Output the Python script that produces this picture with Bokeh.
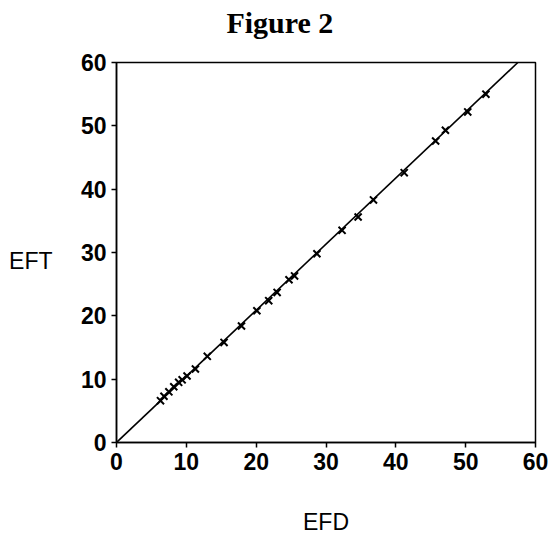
from bokeh.plotting import figure
from bokeh.models import (Range1d, Slope, FixedTicker, ColumnDataSource,
                          LinearAxis)
from bokeh.embed import file_html
from bokeh.resources import INLINE

# data
efd = [6.3, 6.8, 7.5, 8.2, 8.9, 9.4, 10.1, 11.3, 13.0, 15.4, 17.9, 20.1, 21.8,
       23.0, 24.7, 25.5, 28.7, 32.3, 34.6, 36.8, 41.2, 45.7, 47.1, 50.3, 52.9]
eft = [6.6, 7.3, 8.0, 8.8, 9.5, 9.9, 10.5, 11.6, 13.6, 15.8, 18.4, 20.8, 22.4,
       23.7, 25.7, 26.3, 29.8, 33.5, 35.6, 38.3, 42.6, 47.6, 49.3, 52.2, 55.0]
fit_intercept = 0.0
fit_slope = 1.044
x_ticks = [0, 10, 20, 30, 40, 50, 60]
y_ticks = [0, 10, 20, 30, 40, 50, 60]
y_label_pos = 28.7
title_pos = 23.4
title_text = "Figure 2"

src = ColumnDataSource(dict(efd=efd, eft=eft))

p = figure(frame_width=419, frame_height=380,
           x_range=Range1d(0, 60), y_range=Range1d(0, 60),
           min_border_left=116, min_border_right=16,
           min_border_top=62, min_border_bottom=94,
           output_backend="svg", toolbar_location=None)

p.grid.visible = False
p.outline_line_color = "black"
p.outline_line_width = 1.5
p.outline_line_alpha = 1.0
p.background_fill_color = "white"
p.border_fill_color = "white"

for ax, ticks in ((p.xaxis, x_ticks), (p.yaxis, y_ticks)):
    ax.ticker = FixedTicker(ticks=ticks)
    ax.minor_tick_line_color = None
    ax.major_tick_in = 0
    ax.major_tick_out = 5
    ax.major_tick_line_color = "black"
    ax.major_tick_line_width = 1.5
    ax.axis_line_color = "black"
    ax.axis_line_width = 1.5
    ax.major_label_text_font = "Liberation Sans"
    ax.major_label_text_font_size = "23px"
    ax.major_label_text_font_style = "bold"
    ax.major_label_text_color = "black"

p.xaxis.major_label_standoff = 5
p.yaxis.major_label_standoff = 5

p.xaxis.axis_label = "EFD"
p.xaxis.axis_label_text_font = "Liberation Sans"
p.xaxis.axis_label_text_font_size = "23px"
p.xaxis.axis_label_text_font_style = "normal"
p.xaxis.axis_label_text_color = "black"
p.xaxis.axis_label_standoff = 36

# horizontal "EFT" label as an extra label-only axis on the left
eft_axis = LinearAxis(ticker=FixedTicker(ticks=[y_label_pos]),
                      major_label_overrides={y_label_pos: "EFT"},
                      axis_line_color=None, major_tick_line_color=None,
                      minor_tick_line_color=None,
                      major_label_standoff=19,
                      major_label_text_font="Liberation Sans",
                      major_label_text_font_size="23px",
                      major_label_text_color="black")
p.add_layout(eft_axis, "left")

# title as a label-only axis above the frame
title_axis = LinearAxis(ticker=FixedTicker(ticks=[title_pos]),
                        major_label_overrides={title_pos: title_text},
                        axis_line_color=None, major_tick_line_color=None,
                        minor_tick_line_color=None,
                        major_label_standoff=18,
                        major_label_text_font="Liberation Serif",
                        major_label_text_font_size="30px",
                        major_label_text_font_style="bold",
                        major_label_text_color="black")
p.add_layout(title_axis, "above")

p.add_layout(Slope(gradient=fit_slope, y_intercept=fit_intercept,
                   line_color="black", line_width=1.6))

p.scatter("efd", "eft", source=src, marker="x", size=10,
          line_color="black", line_width=2)

open("out.html", "w").write(file_html(p, INLINE))
